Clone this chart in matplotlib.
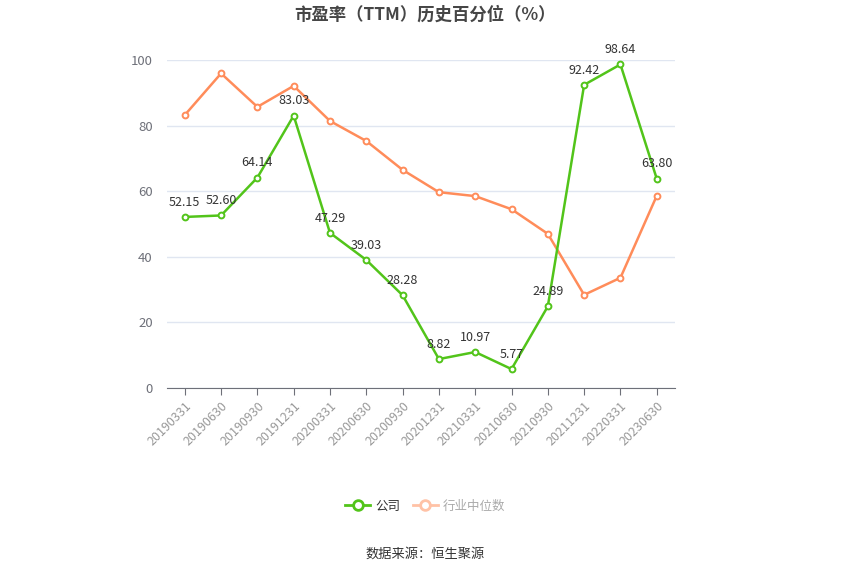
import numpy as np
import matplotlib
matplotlib.use('Agg')
import matplotlib.pyplot as plt
from matplotlib.lines import Line2D

plt.rcParams['font.family'] = ['Noto Sans CJK SC', 'DejaVu Sans']

dates = ['20190331', '20190630', '20190930', '20191231', '20200331', '20200630',
         '20200930', '20201231', '20210331', '20210630', '20210930', '20211231',
         '20220331', '20230630']
company = [52.15, 52.60, 64.14, 83.03, 47.29, 39.03, 28.28, 8.82, 10.97, 5.77,
           24.89, 92.42, 98.64, 63.80]
industry = [83.2, 95.9, 85.7, 92.1, 81.4, 75.3, 66.5, 59.7, 58.5, 54.5, 47.0,
            28.4, 33.6, 58.6]

green = '#52C41A'
orange = '#FF8C5A'

fig = plt.figure(figsize=(8.5, 5.75), dpi=100)
ax = fig.add_axes([0.196, 0.3252, 0.598, 0.5705])

x = np.arange(len(dates))
ax.plot(x, industry, color=orange, lw=1.8, marker='o', ms=4.2, mfc='white',
        mec=orange, mew=1.4, zorder=3)
ax.plot(x, company, color=green, lw=1.8, marker='o', ms=4.2, mfc='white',
        mec=green, mew=1.4, zorder=4)

for xi, v in zip(x, company):
    ax.annotate('%.2f' % v, (xi, v), xytext=(0, 6), textcoords='offset points',
                ha='center', va='bottom', fontsize=9, color='#333333', zorder=5)

ax.set_xlim(-0.5, len(dates) - 0.5)
ax.set_ylim(0, 100)
ax.set_yticks([0, 20, 40, 60, 80, 100])
ax.set_xticks(x)
ax.set_xticklabels(dates, rotation=45, ha='right', rotation_mode='anchor')
ax.tick_params(axis='y', length=0, labelsize=9.5, colors='#6E7079', pad=10)
ax.tick_params(axis='x', length=5, color='#6E7079', labelsize=9,
               labelcolor='#999999', pad=3)
ax.grid(axis='y', color='#E0E6F1', lw=1)
ax.set_axisbelow(True)
for s in ['top', 'right', 'left']:
    ax.spines[s].set_visible(False)
ax.spines['bottom'].set_color('#6E7079')

fig.text(0.5, 0.975, '市盈率（TTM）历史百分位（%）', ha='center', va='center',
         fontsize=12.5, fontweight='bold', color='#464646')

handles = [Line2D([], [], color=green, lw=2, marker='o', ms=7, mfc='white', mec=green, mew=2),
           Line2D([], [], color='#FFC2A6', lw=2, marker='o', ms=7, mfc='white', mec='#FFC2A6', mew=2)]
leg = fig.legend(handles, ['公司', '行业中位数'], loc='center', bbox_to_anchor=(0.5, 0.12),
                 ncol=2, frameon=False, fontsize=9, handlelength=2.0, columnspacing=1.0,
                 handletextpad=0.4)
leg.get_texts()[0].set_color('#333333')
leg.get_texts()[1].set_color('#AAAAAA')

fig.text(0.5, 0.036, '数据来源：恒生聚源', ha='center', va='center', fontsize=9.5,
         color='#333333')

fig.savefig('out.png', dpi=100)
